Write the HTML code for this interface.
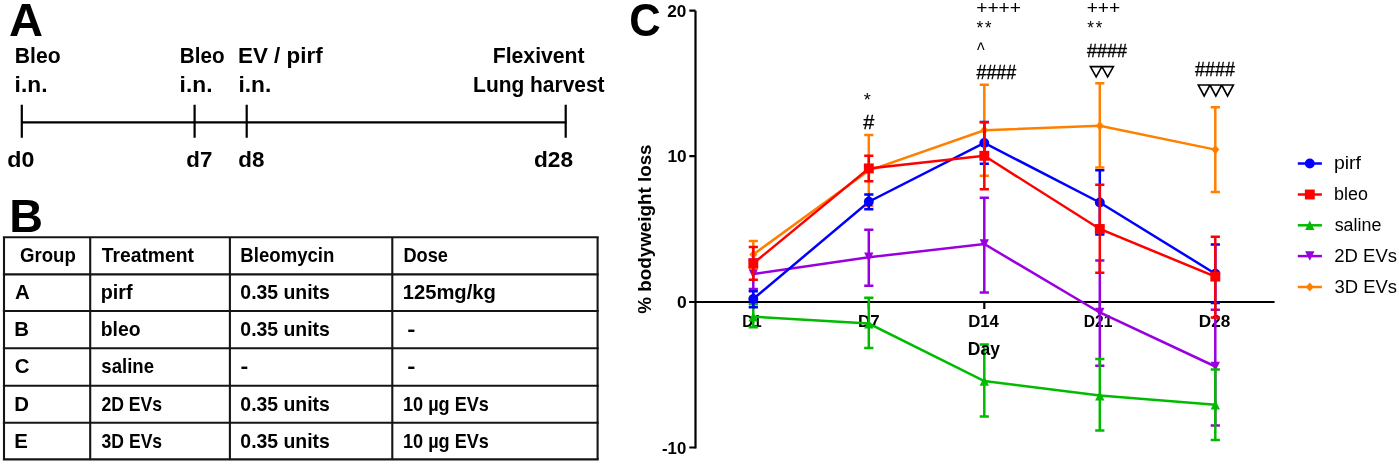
<!DOCTYPE html>
<html><head><meta charset="utf-8"><style>
html,body{margin:0;padding:0;background:#fff;}
svg{display:block;}svg{will-change:transform}
text{font-family:"Liberation Sans",sans-serif;fill:#000;}
</style></head><body>
<svg width="1399" height="464" viewBox="0 0 1399 464">
<rect width="1399" height="464" fill="#fff"/>
<text x="9.13" y="35.8" font-size="46.08" font-weight="bold" textLength="34.01" lengthAdjust="spacingAndGlyphs">A</text>
<text x="14.78" y="62.6" font-size="21.6" font-weight="bold" textLength="45.84" lengthAdjust="spacingAndGlyphs">Bleo</text>
<text x="14.61" y="92.3" font-size="21.6" font-weight="bold" textLength="32.85" lengthAdjust="spacingAndGlyphs">i.n.</text>
<text x="179.82" y="62.6" font-size="21.6" font-weight="bold" textLength="44.79" lengthAdjust="spacingAndGlyphs">Bleo</text>
<text x="179.61" y="92.3" font-size="21.6" font-weight="bold" textLength="32.85" lengthAdjust="spacingAndGlyphs">i.n.</text>
<text x="238.00" y="62.6" font-size="21.6" font-weight="bold" textLength="84.66" lengthAdjust="spacingAndGlyphs">EV / pirf</text>
<text x="238.41" y="92.3" font-size="21.6" font-weight="bold" textLength="32.85" lengthAdjust="spacingAndGlyphs">i.n.</text>
<text x="492.68" y="62.9" font-size="21.6" font-weight="bold" textLength="91.98" lengthAdjust="spacingAndGlyphs">Flexivent</text>
<text x="473.10" y="92.0" font-size="21.6" font-weight="bold" textLength="131.46" lengthAdjust="spacingAndGlyphs">Lung harvest</text>
<text x="7.25" y="167" font-size="21.6" font-weight="bold" textLength="27.11" lengthAdjust="spacingAndGlyphs">d0</text>
<text x="186.29" y="167" font-size="21.6" font-weight="bold" textLength="25.99" lengthAdjust="spacingAndGlyphs">d7</text>
<text x="238.28" y="167" font-size="21.6" font-weight="bold" textLength="26.11" lengthAdjust="spacingAndGlyphs">d8</text>
<text x="533.97" y="167" font-size="21.6" font-weight="bold" textLength="39.03" lengthAdjust="spacingAndGlyphs">d28</text>
<g stroke="#000" stroke-width="2.2"><path d="M21.8,122.3H566.5"/><path d="M21.8,104.7V137.8M194.6,104.7V137.8M246.7,104.7V137.8M565.7,104.7V137.8"/></g>
<text x="9.27" y="232.2" font-size="46.37" font-weight="bold" textLength="33.75" lengthAdjust="spacingAndGlyphs">B</text>
<g stroke="#151515" stroke-width="2.1" fill="none">
<path d="M2.9,237.3H598.7"/>
<path d="M2.9,274.4H598.7"/>
<path d="M2.9,311H598.7"/>
<path d="M2.9,348.3H598.7"/>
<path d="M2.9,385.8H598.7"/>
<path d="M2.9,422.8H598.7"/>
<path d="M2.9,459.4H598.7"/>
<path d="M4,237.3V459.4"/>
<path d="M90.2,237.3V459.4"/>
<path d="M229.9,237.3V459.4"/>
<path d="M392.3,237.3V459.4"/>
<path d="M597.6,237.3V459.4"/>
</g>
<text x="19.94" y="262.3" font-size="20.4" font-weight="bold" textLength="55.83" lengthAdjust="spacingAndGlyphs">Group</text>
<text x="101.69" y="262.3" font-size="20.4" font-weight="bold" textLength="92.25" lengthAdjust="spacingAndGlyphs">Treatment</text>
<text x="240.36" y="262.3" font-size="20.4" font-weight="bold" textLength="94.00" lengthAdjust="spacingAndGlyphs">Bleomycin</text>
<text x="403.48" y="262.3" font-size="20.4" font-weight="bold" textLength="44.54" lengthAdjust="spacingAndGlyphs">Dose</text>
<text x="14.99" y="299.1" font-size="20.4" font-weight="bold">A</text>
<text x="100.70" y="299.1" font-size="20.4" font-weight="bold" textLength="31.87" lengthAdjust="spacingAndGlyphs">pirf</text>
<text x="240.33" y="299.1" font-size="20.4" font-weight="bold" textLength="89.56" lengthAdjust="spacingAndGlyphs">0.35 units</text>
<text x="402.63" y="299.1" font-size="20.4" font-weight="bold" textLength="93.33" lengthAdjust="spacingAndGlyphs">125mg/kg</text>
<text x="14.14" y="336.2" font-size="20.4" font-weight="bold">B</text>
<text x="100.72" y="336.2" font-size="20.4" font-weight="bold" textLength="39.83" lengthAdjust="spacingAndGlyphs">bleo</text>
<text x="240.33" y="336.2" font-size="20.4" font-weight="bold" textLength="89.56" lengthAdjust="spacingAndGlyphs">0.35 units</text>
<text x="407.35" y="336.2" font-size="20.4" font-weight="bold" textLength="8.13" lengthAdjust="spacingAndGlyphs">-</text>
<text x="14.66" y="373.3" font-size="20.4" font-weight="bold">C</text>
<text x="101.35" y="373.3" font-size="20.4" font-weight="bold" textLength="52.69" lengthAdjust="spacingAndGlyphs">saline</text>
<text x="240.49" y="373.3" font-size="20.4" font-weight="bold" textLength="7.74" lengthAdjust="spacingAndGlyphs">-</text>
<text x="407.35" y="373.3" font-size="20.4" font-weight="bold" textLength="8.13" lengthAdjust="spacingAndGlyphs">-</text>
<text x="14.14" y="410.6" font-size="20.4" font-weight="bold">D</text>
<text x="101.39" y="410.6" font-size="20.4" font-weight="bold" textLength="60.73" lengthAdjust="spacingAndGlyphs">2D EVs</text>
<text x="240.33" y="410.6" font-size="20.4" font-weight="bold" textLength="89.56" lengthAdjust="spacingAndGlyphs">0.35 units</text>
<text x="402.96" y="410.6" font-size="20.4" font-weight="bold" textLength="85.98" lengthAdjust="spacingAndGlyphs">10 µg EVs</text>
<text x="14.14" y="447.6" font-size="20.4" font-weight="bold">E</text>
<text x="101.60" y="447.6" font-size="20.4" font-weight="bold" textLength="60.52" lengthAdjust="spacingAndGlyphs">3D EVs</text>
<text x="240.33" y="447.6" font-size="20.4" font-weight="bold" textLength="89.56" lengthAdjust="spacingAndGlyphs">0.35 units</text>
<text x="402.96" y="447.6" font-size="20.4" font-weight="bold" textLength="85.98" lengthAdjust="spacingAndGlyphs">10 µg EVs</text>
<text x="629.21" y="36.2" font-size="46.26" font-weight="bold" textLength="31.48" lengthAdjust="spacingAndGlyphs">C</text>
<g stroke="#000" stroke-width="2.2" fill="none"><path d="M695.5,10.7V448.6"/><path d="M689.3,10.7H695.5M689.3,156.2H695.5M689.3,302H695.5M689.3,447.5H695.5"/><path d="M689.3,302H1274.6"/><path d="M753.3,302V309"/><path d="M868.8,302V309"/><path d="M984.3,302V309"/><path d="M1099.8,302V309"/><path d="M1215.3,302V309"/></g>
<text x="667.30" y="16.8" font-size="17.2" font-weight="bold" textLength="19.10" lengthAdjust="spacingAndGlyphs">20</text>
<text x="667.51" y="162" font-size="17.2" font-weight="bold" textLength="19.19" lengthAdjust="spacingAndGlyphs">10</text>
<text x="676.91" y="307.8" font-size="17.2" font-weight="bold" textLength="9.71" lengthAdjust="spacingAndGlyphs">0</text>
<text x="662.04" y="453.7" font-size="17.2" font-weight="bold" textLength="24.24" lengthAdjust="spacingAndGlyphs">-10</text>
<text x="742.29" y="326.7" font-size="16.2" font-weight="bold" textLength="19.33" lengthAdjust="spacingAndGlyphs">D1</text>
<text x="857.97" y="326.7" font-size="16.2" font-weight="bold" textLength="21.57" lengthAdjust="spacingAndGlyphs">D7</text>
<text x="968.18" y="326.7" font-size="16.2" font-weight="bold" textLength="30.71" lengthAdjust="spacingAndGlyphs">D14</text>
<text x="1083.86" y="326.7" font-size="16.2" font-weight="bold" textLength="28.58" lengthAdjust="spacingAndGlyphs">D21</text>
<text x="1198.85" y="326.7" font-size="16.2" font-weight="bold" textLength="31.48" lengthAdjust="spacingAndGlyphs">D28</text>
<g transform="translate(650.7,313.2) rotate(-90)"><text x="-0.47" y="0" font-size="18.3" font-weight="bold" textLength="169.24" lengthAdjust="spacingAndGlyphs">% bodyweight loss</text></g>
<g stroke="#ff7f00" stroke-width="2.5" fill="none">
<polyline points="753.3,254.4 868.8,170.5 984.3,130.2 1099.8,125.8 1215.3,149.6" stroke-linejoin="miter"/>
<path d="M753.3,241V267.8M748.6999999999999,241H757.9M748.6999999999999,267.8H757.9"/>
<path d="M868.8,135V206M864.1999999999999,135H873.4M864.1999999999999,206H873.4"/>
<path d="M984.3,84.7V175.7M979.6999999999999,84.7H988.9M979.6999999999999,175.7H988.9"/>
<path d="M1099.8,83.2V167.6M1095.2,83.2H1104.3999999999999M1095.2,167.6H1104.3999999999999"/>
<path d="M1215.3,107.3V191.9M1210.7,107.3H1219.8999999999999M1210.7,191.9H1219.8999999999999"/>
</g>
<polygon points="753.30,249.80 757.30,254.40 753.30,259.00 749.30,254.40" fill="#ff7f00"/>
<polygon points="868.80,165.90 872.80,170.50 868.80,175.10 864.80,170.50" fill="#ff7f00"/>
<polygon points="984.30,125.60 988.30,130.20 984.30,134.80 980.30,130.20" fill="#ff7f00"/>
<polygon points="1099.80,121.20 1103.80,125.80 1099.80,130.40 1095.80,125.80" fill="#ff7f00"/>
<polygon points="1215.30,145.00 1219.30,149.60 1215.30,154.20 1211.30,149.60" fill="#ff7f00"/>
<g stroke="#9900e0" stroke-width="2.5" fill="none">
<polyline points="753.3,274 868.8,257.3 984.3,244 1099.8,312.5 1215.3,366.5" stroke-linejoin="miter"/>
<path d="M753.3,259.5V288.9M748.6999999999999,259.5H757.9M748.6999999999999,288.9H757.9"/>
<path d="M868.8,229.8V285.8M864.1999999999999,229.8H873.4M864.1999999999999,285.8H873.4"/>
<path d="M984.3,197.8V292.6M979.6999999999999,197.8H988.9M979.6999999999999,292.6H988.9"/>
<path d="M1099.8,260.6V365.7M1095.2,260.6H1104.3999999999999M1095.2,365.7H1104.3999999999999"/>
<path d="M1215.3,309.7V425.4M1210.7,309.7H1219.8999999999999M1210.7,425.4H1219.8999999999999"/>
</g>
<polygon points="753.30,278.70 757.95,269.20 748.65,269.20" fill="#9900e0"/>
<polygon points="868.80,262.00 873.45,252.50 864.15,252.50" fill="#9900e0"/>
<polygon points="984.30,248.70 988.95,239.20 979.65,239.20" fill="#9900e0"/>
<polygon points="1099.80,317.20 1104.45,307.70 1095.15,307.70" fill="#9900e0"/>
<polygon points="1215.30,371.20 1219.95,361.70 1210.65,361.70" fill="#9900e0"/>
<g stroke="#00bb00" stroke-width="2.5" fill="none">
<polyline points="753.3,316.7 868.8,323.6 984.3,381 1099.8,395.6 1215.3,404.7" stroke-linejoin="miter"/>
<path d="M753.3,304.2V327.2M748.6999999999999,304.2H757.9M748.6999999999999,327.2H757.9"/>
<path d="M868.8,297.7V348M864.1999999999999,297.7H873.4M864.1999999999999,348H873.4"/>
<path d="M984.3,344.5V416.5M979.6999999999999,344.5H988.9M979.6999999999999,416.5H988.9"/>
<path d="M1099.8,359V430.6M1095.2,359H1104.3999999999999M1095.2,430.6H1104.3999999999999"/>
<path d="M1215.3,369.6V439.9M1210.7,369.6H1219.8999999999999M1210.7,439.9H1219.8999999999999"/>
</g>
<polygon points="753.30,312.00 757.95,321.50 748.65,321.50" fill="#00bb00"/>
<polygon points="868.80,318.90 873.45,328.40 864.15,328.40" fill="#00bb00"/>
<polygon points="984.30,376.30 988.95,385.80 979.65,385.80" fill="#00bb00"/>
<polygon points="1099.80,390.90 1104.45,400.40 1095.15,400.40" fill="#00bb00"/>
<polygon points="1215.30,400.00 1219.95,409.50 1210.65,409.50" fill="#00bb00"/>
<g stroke="#0000ff" stroke-width="2.5" fill="none">
<polyline points="753.3,299 868.8,201.7 984.3,142.9 1099.8,202.5 1215.3,273.7" stroke-linejoin="miter"/>
<path d="M753.3,291.3V307.3M748.6999999999999,291.3H757.9M748.6999999999999,307.3H757.9"/>
<path d="M868.8,194.5V209.2M864.1999999999999,194.5H873.4M864.1999999999999,209.2H873.4"/>
<path d="M984.3,121.9V163.7M979.6999999999999,121.9H988.9M979.6999999999999,163.7H988.9"/>
<path d="M1099.8,170.3V234.5M1095.2,170.3H1104.3999999999999M1095.2,234.5H1104.3999999999999"/>
<path d="M1215.3,244.5V302.9M1210.7,244.5H1219.8999999999999M1210.7,302.9H1219.8999999999999"/>
</g>
<circle cx="753.3" cy="299" r="4.95" fill="#0000ff"/>
<circle cx="868.8" cy="201.7" r="4.95" fill="#0000ff"/>
<circle cx="984.3" cy="142.9" r="4.95" fill="#0000ff"/>
<circle cx="1099.8" cy="202.5" r="4.95" fill="#0000ff"/>
<circle cx="1215.3" cy="273.7" r="4.95" fill="#0000ff"/>
<g stroke="#ff0000" stroke-width="2.5" fill="none">
<polyline points="753.3,263.4 868.8,168.4 984.3,155.8 1099.8,229 1215.3,276.6" stroke-linejoin="miter"/>
<path d="M753.3,246.9V279.7M748.6999999999999,246.9H757.9M748.6999999999999,279.7H757.9"/>
<path d="M868.8,155.7V181.3M864.1999999999999,155.7H873.4M864.1999999999999,181.3H873.4"/>
<path d="M984.3,122.2V189.2M979.6999999999999,122.2H988.9M979.6999999999999,189.2H988.9"/>
<path d="M1099.8,184.7V272.7M1095.2,184.7H1104.3999999999999M1095.2,272.7H1104.3999999999999"/>
<path d="M1215.3,236.7V317.6M1210.7,236.7H1219.8999999999999M1210.7,317.6H1219.8999999999999"/>
</g>
<rect x="748.35" y="258.45" width="9.90" height="9.90" fill="#ff0000"/>
<rect x="863.85" y="163.45" width="9.90" height="9.90" fill="#ff0000"/>
<rect x="979.35" y="150.85" width="9.90" height="9.90" fill="#ff0000"/>
<rect x="1094.85" y="224.05" width="9.90" height="9.90" fill="#ff0000"/>
<rect x="1210.35" y="271.65" width="9.90" height="9.90" fill="#ff0000"/>
<text x="967.83" y="355.1" font-size="17.8" font-weight="bold" textLength="32.06" lengthAdjust="spacingAndGlyphs">Day</text>
<text x="863.71" y="105.8" font-size="19" font-weight="normal" textLength="7.08" lengthAdjust="spacingAndGlyphs">*</text>
<text x="863.21" y="128.9" font-size="20.76" font-weight="normal" textLength="11.08" lengthAdjust="spacingAndGlyphs" stroke="#000" stroke-width="0.35">#</text>
<text x="976.16" y="13.63" font-size="18.6" font-weight="normal" textLength="44.89" lengthAdjust="spacingAndGlyphs">++++</text>
<text x="976.52" y="33.7" font-size="19" font-weight="normal" textLength="6.75" lengthAdjust="spacingAndGlyphs">*</text>
<text x="985.03" y="33.7" font-size="19" font-weight="normal" textLength="6.53" lengthAdjust="spacingAndGlyphs">*</text>
<text x="977.02" y="57.38" font-size="20.03" font-weight="normal" textLength="7.66" lengthAdjust="spacingAndGlyphs">^</text>
<text x="976.42" y="78.5" font-size="20.32" font-weight="normal" textLength="39.87" lengthAdjust="spacingAndGlyphs" stroke="#000" stroke-width="0.35">####</text>
<text x="1086.66" y="13.63" font-size="18.6" font-weight="normal" textLength="33.58" lengthAdjust="spacingAndGlyphs">+++</text>
<text x="1087.22" y="33.9" font-size="19" font-weight="normal" textLength="6.75" lengthAdjust="spacingAndGlyphs">*</text>
<text x="1095.63" y="33.9" font-size="19" font-weight="normal" textLength="6.53" lengthAdjust="spacingAndGlyphs">*</text>
<text x="1087.12" y="57.3" font-size="19.0" font-weight="normal" textLength="39.97" lengthAdjust="spacingAndGlyphs" stroke="#000" stroke-width="0.35">####</text>
<text x="1195.02" y="75.9" font-size="20.47" font-weight="normal" textLength="39.87" lengthAdjust="spacingAndGlyphs" stroke="#000" stroke-width="0.35">####</text>
<path d="M1090.40,66.6L1096.15,76.8L1101.90,66.6ZM1101.90,66.6L1107.65,76.8L1113.40,66.6Z" fill="none" stroke="#000" stroke-width="1.6" stroke-linejoin="miter"/>
<path d="M1198.30,85L1204.15,96L1210.00,85ZM1210.00,85L1215.85,96L1221.70,85ZM1221.70,85L1227.55,96L1233.40,85Z" fill="none" stroke="#000" stroke-width="1.6" stroke-linejoin="miter"/>
<path d="M1297.8,163.5H1321.9" stroke="#0000ff" stroke-width="2.5"/>
<circle cx="1309.8" cy="163.5" r="4.95" fill="#0000ff"/>
<text x="1333.95" y="168.5" font-size="17.5" font-weight="normal" textLength="27.03" lengthAdjust="spacingAndGlyphs">pirf</text>
<path d="M1297.8,194.5H1321.9" stroke="#ff0000" stroke-width="2.5"/>
<rect x="1304.85" y="189.55" width="9.90" height="9.90" fill="#ff0000"/>
<text x="1334.05" y="200" font-size="17.5" font-weight="normal" textLength="33.80" lengthAdjust="spacingAndGlyphs">bleo</text>
<path d="M1297.8,225.3H1321.9" stroke="#00bb00" stroke-width="2.5"/>
<polygon points="1309.80,220.60 1314.45,230.10 1305.15,230.10" fill="#00bb00"/>
<text x="1334.70" y="230.6" font-size="17.5" font-weight="normal" textLength="46.69" lengthAdjust="spacingAndGlyphs">saline</text>
<path d="M1297.8,256.1H1321.9" stroke="#9900e0" stroke-width="2.5"/>
<polygon points="1309.80,260.80 1314.45,251.30 1305.15,251.30" fill="#9900e0"/>
<text x="1334.27" y="261.6" font-size="17.5" font-weight="normal" textLength="62.70" lengthAdjust="spacingAndGlyphs">2D EVs</text>
<path d="M1297.8,287H1321.9" stroke="#ff7f00" stroke-width="2.5"/>
<polygon points="1309.80,282.40 1313.80,287.00 1309.80,291.60 1305.80,287.00" fill="#ff7f00"/>
<text x="1334.50" y="292.5" font-size="17.5" font-weight="normal" textLength="62.47" lengthAdjust="spacingAndGlyphs">3D EVs</text>
</svg>
</body></html>
